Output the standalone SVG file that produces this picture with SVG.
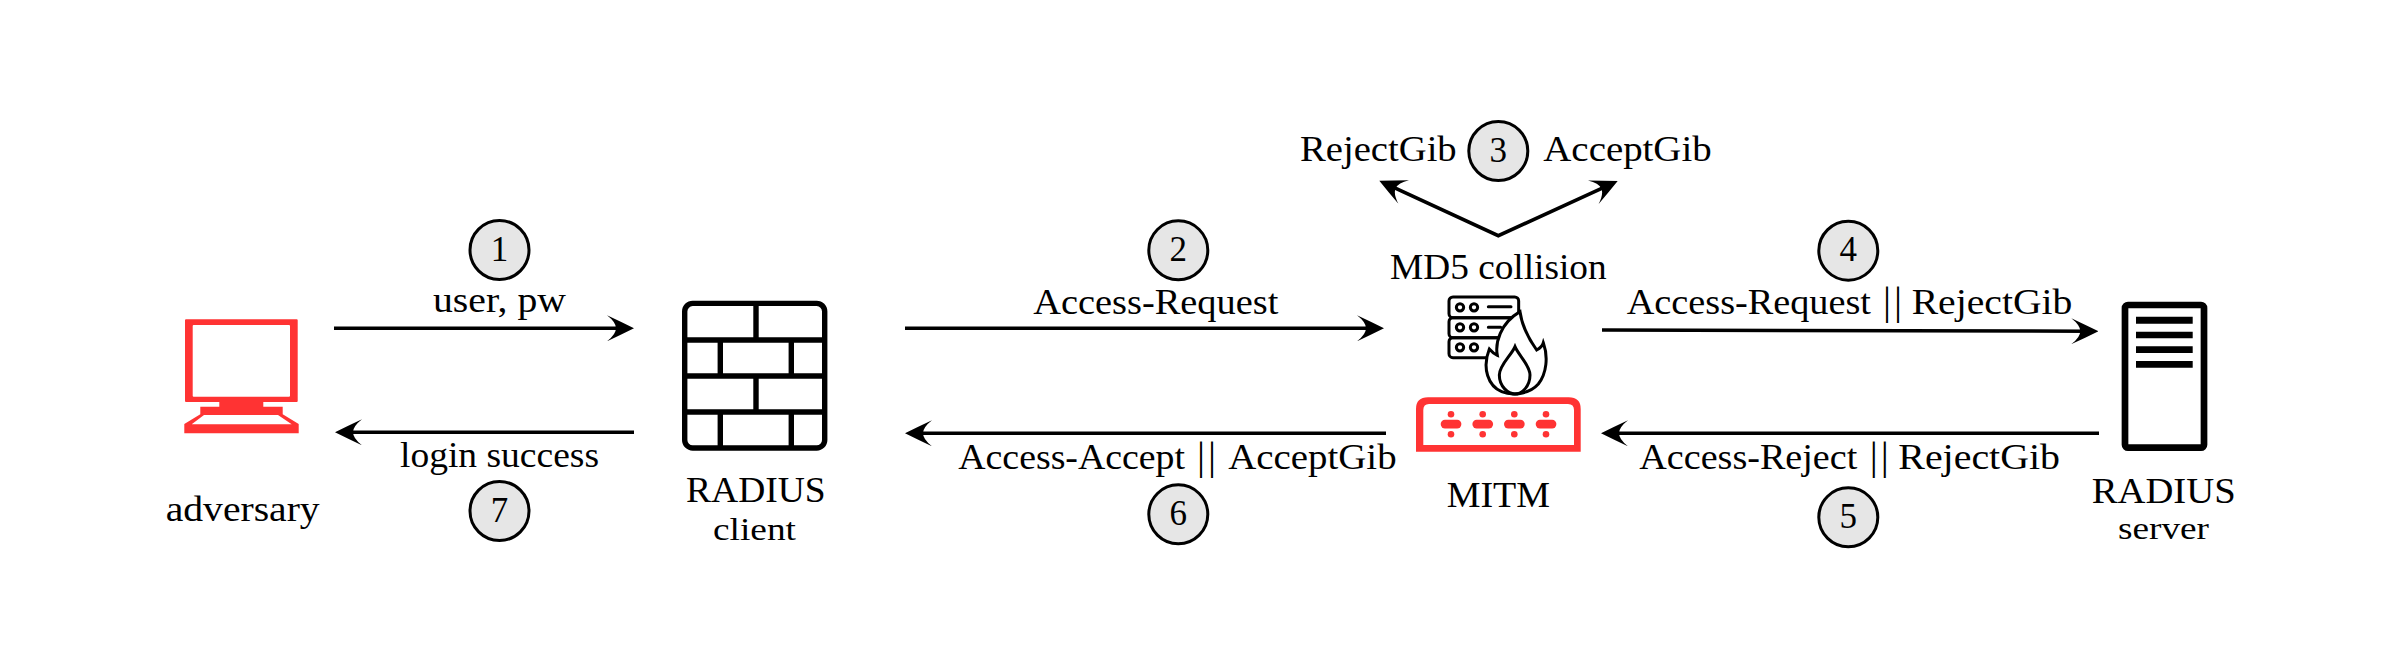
<svg xmlns="http://www.w3.org/2000/svg" width="2391" height="672" viewBox="0 0 2391 672">
<style>
text{font-family:"Liberation Serif","Times New Roman",serif;font-size:36.5px;fill:#000}
.small{font-size:31px}
.digit{font-size:35px;text-anchor:middle}
.bars{letter-spacing:3px;font-size:40px}
.step{fill:#e6e6e6;stroke:#000;stroke-width:3}
.conn{fill:none;stroke:#000;stroke-width:3.6}
.red{fill:#ff3333}
</style>
<defs>
<marker id="head" markerUnits="userSpaceOnUse" markerWidth="27" markerHeight="26" refX="16" refY="13" orient="auto-start-reverse">
<path d="M27 13Q14 6.5 0 0Q9 7 9 13Q9 19 0 26Q14 19.500 27 13Z" fill="#000"/>
</marker>
</defs>
<rect width="2391" height="672" fill="#fff"/>
<g id="connectors">
<path class="conn" marker-end="url(#head)" d="M334 328.300H623"/>
<path class="conn" marker-end="url(#head)" d="M634 432.300H346"/>
<path class="conn" marker-end="url(#head)" d="M905 328.300H1373"/>
<path class="conn" marker-end="url(#head)" d="M1386 433.300H916"/>
<path class="conn" marker-end="url(#head)" d="M1602 330L2087.300 331.200"/>
<path class="conn" marker-end="url(#head)" d="M2099 433.300H1612"/>
<polyline class="conn" marker-start="url(#head)" marker-end="url(#head)" points="1389.300,185.300 1498.300,235.700 1607.700,185.600"/>
</g>
<g id="labels">
<text x="433" y="311.700" textLength="133" lengthAdjust="spacingAndGlyphs">user, pw</text>
<text x="400" y="466.700" textLength="199" lengthAdjust="spacingAndGlyphs">login success</text>
<text x="1033.300" y="314" textLength="245" lengthAdjust="spacingAndGlyphs">Access-Request</text>
<text y="469.300"><tspan x="958.300" textLength="226.700" lengthAdjust="spacingAndGlyphs">Access-Accept</tspan> <tspan class="bars" x="1197">||</tspan> <tspan x="1228.300" textLength="168.300" lengthAdjust="spacingAndGlyphs">AcceptGib</tspan></text>
<text y="314.300"><tspan x="1626.700" textLength="244.300" lengthAdjust="spacingAndGlyphs">Access-Request</tspan> <tspan class="bars" x="1883">||</tspan> <tspan x="1911.700" textLength="160.700" lengthAdjust="spacingAndGlyphs">RejectGib</tspan></text>
<text y="469.300"><tspan x="1639.300" textLength="218" lengthAdjust="spacingAndGlyphs">Access-Reject</tspan> <tspan class="bars" x="1869.700">||</tspan> <tspan x="1898.300" textLength="161.700" lengthAdjust="spacingAndGlyphs">RejectGib</tspan></text>
<text x="1300" y="160.700" textLength="156.700" lengthAdjust="spacingAndGlyphs">RejectGib</text>
<text x="1543.300" y="160.700" textLength="168.400" lengthAdjust="spacingAndGlyphs">AcceptGib</text>
<text x="1390" y="279" textLength="216.700" lengthAdjust="spacingAndGlyphs">MD5 collision</text>
</g>
<g id="step1"><circle class="step" cx="499.500" cy="250" r="29.500"/><text class="digit" x="499.500" y="261">1</text></g>
<g id="step2"><circle class="step" cx="1178.300" cy="250.300" r="29.500"/><text class="digit" x="1178.300" y="261">2</text></g>
<g id="step3"><circle class="step" cx="1498.300" cy="151" r="29.500"/><text class="digit" x="1498.300" y="162">3</text></g>
<g id="step4"><circle class="step" cx="1848.300" cy="250.700" r="29.500"/><text class="digit" x="1848.300" y="261">4</text></g>
<g id="step5"><circle class="step" cx="1848.300" cy="517.300" r="29.500"/><text class="digit" x="1848.300" y="528">5</text></g>
<g id="step6"><circle class="step" cx="1178.300" cy="514.300" r="29.500"/><text class="digit" x="1178.300" y="525">6</text></g>
<g id="step7"><circle class="step" cx="499.500" cy="511" r="29.500"/><text class="digit" x="499.500" y="522">7</text></g>
<g id="adversary">
<path class="red" fill-rule="evenodd" d="M185 320.300Q185 319.300 186 319.300H296.700Q297.700 319.300 297.700 320.300V401Q297.700 402 296.700 402H263.300V406.700H282.700V414.300L298.700 424V433.300H184.300V424L200.300 414.300V406.700H219.300V402H186Q185 402 185 401ZM193.700 325Q192.700 325 192.700 326V395.700Q192.700 396.700 193.700 396.700H289Q290 396.700 290 395.700V326Q290 325 289 325ZM204 415L191.700 424.300H291.700L278 415Z"/>
<text x="165.700" y="521" textLength="154" lengthAdjust="spacingAndGlyphs">adversary</text>
</g>
<g id="radius-client">
<rect x="684.700" y="303.400" width="140" height="144.600" rx="8" fill="#fff" stroke="#000" stroke-width="5.400"/>
<path fill="none" stroke="#000" stroke-width="5.400" d="M684.700 340H824.700M684.700 376H824.700M684.700 412H824.700M756 303.400V340M720.300 340V376M791.300 340V376M756 376V412M720.300 412V448M791.300 412V448"/>
<text x="686" y="501.700" textLength="139.700" lengthAdjust="spacingAndGlyphs">RADIUS</text>
<text class="small" x="713" y="540" textLength="83" lengthAdjust="spacingAndGlyphs">client</text>
</g>
<g id="mitm">
<g transform="translate(1380 280) scale(.33333)" fill="none" stroke="#000" stroke-width="9" stroke-linecap="round">
<rect x="207" y="51" width="209" height="62" rx="12"/>
<rect x="207" y="113" width="209" height="60" rx="12"/>
<rect x="207" y="173" width="209" height="60" rx="12"/>
<circle cx="240" cy="82" r="11"/><circle cx="282" cy="82" r="11"/>
<circle cx="240" cy="142" r="11"/><circle cx="282" cy="142" r="11"/>
<circle cx="240" cy="202" r="11"/><circle cx="282" cy="202" r="11"/>
<path d="M325 80H393M325 142H362"/>
<path fill="#fff" d="M420 95C425 130 445 175 470 210C480 205 488 195 490 188C505 230 500 280 475 312C450 340 400 350 365 335C325 318 305 265 328 207C335 215 342 222 352 226C345 190 360 130 420 95Z"/>
<path d="M405 200C415 225 450 255 450 285C450 320 425 342 405 342C385 342 358 320 358 285C358 255 395 225 405 200Z"/>
</g>
<path class="red" fill-rule="evenodd" d="M1416 451.700V409Q1416 397.300 1428 397.300H1568.700Q1580.700 397.300 1580.700 409V451.700ZM1423.300 445H1574V410Q1574 404 1568 404H1429Q1423.300 404 1423.300 410Z"/>
<g class="red">
<rect x="1440.700" y="419.700" width="20.700" height="8.700" rx="4.300"/><circle cx="1451" cy="414.300" r="3.300"/><circle cx="1451" cy="434.300" r="3.300"/>
<rect x="1472.400" y="419.700" width="20.700" height="8.700" rx="4.300"/><circle cx="1482.700" cy="414.300" r="3.300"/><circle cx="1482.700" cy="434.300" r="3.300"/>
<rect x="1504" y="419.700" width="20.700" height="8.700" rx="4.300"/><circle cx="1514.300" cy="414.300" r="3.300"/><circle cx="1514.300" cy="434.300" r="3.300"/>
<rect x="1535.700" y="419.700" width="20.700" height="8.700" rx="4.300"/><circle cx="1546" cy="414.300" r="3.300"/><circle cx="1546" cy="434.300" r="3.300"/>
</g>
<text x="1446.700" y="506.700" textLength="103.300" lengthAdjust="spacingAndGlyphs">MITM</text>
</g>
<g id="radius-server">
<rect x="2125" y="305" width="79" height="142.700" rx="3" fill="#fff" stroke="#000" stroke-width="6.700"/>
<path d="M2136 316.700H2192.700V323.700H2136ZM2136 331.700H2192.700V338.300H2136ZM2136 346.300H2192.700V353H2136ZM2136 361H2192.700V367.700H2136Z"/>
<text x="2091.700" y="503.300" textLength="144" lengthAdjust="spacingAndGlyphs">RADIUS</text>
<text class="small" x="2118" y="539.300" textLength="91" lengthAdjust="spacingAndGlyphs">server</text>
</g>
</svg>
